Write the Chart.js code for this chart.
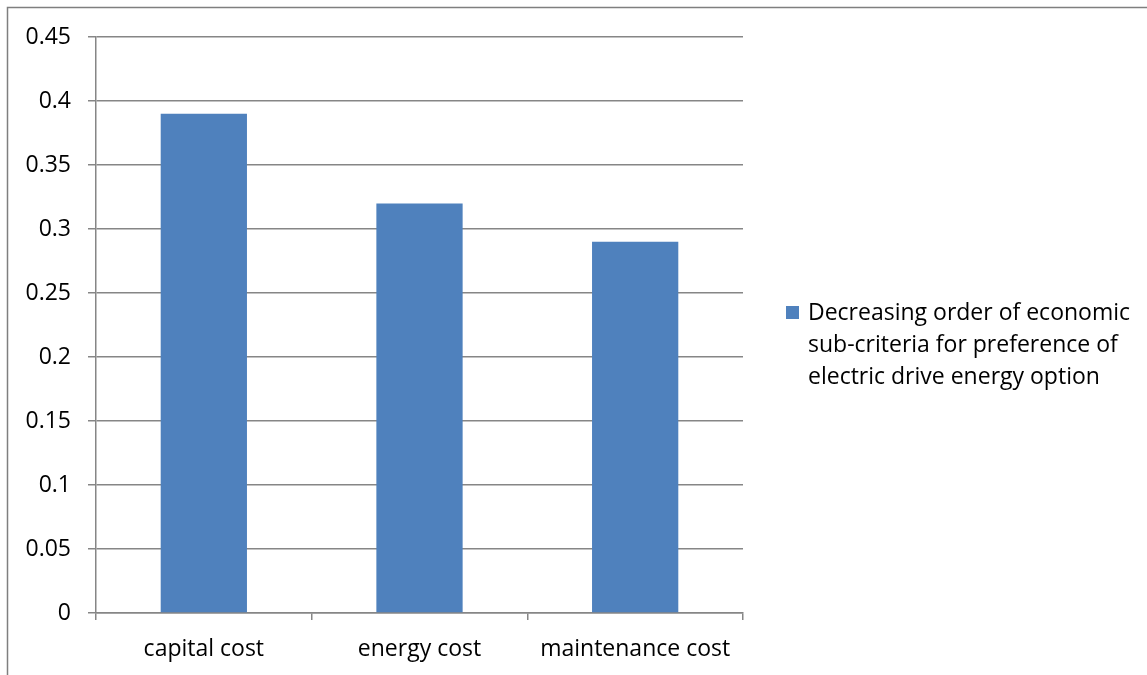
<!DOCTYPE html>
<html>
<head>
<meta charset="utf-8">
<script src="https://cdn.jsdelivr.net/npm/chart.js@4/dist/chart.umd.min.js"></script>
<style>
  html, body { margin: 0; padding: 0; background: #fff; }
  #wrap { width: 1147px; height: 675px; position: relative; }
</style>
</head>
<body>
<div id="wrap"><canvas id="c" width="1147" height="675"></canvas></div>
<script>
// Economic sub-criteria weights
const categories = ['capital cost', 'energy cost', 'maintenance cost'];
const weights = [0.39, 0.32, 0.29];
const seriesLabel = ['Decreasing order of economic', 'sub-criteria for preference of', 'electric drive energy option'];
const yTickValues = [0, 0.05, 0.1, 0.15, 0.2, 0.25, 0.3, 0.35, 0.4, 0.45];

const FONT = "'Open Sans', 'Noto Sans', sans-serif";
const FONT_SIZE = 23;
const GRID = '#868686';
const BAR = '#4F81BD';

// Outer frame of the chart object
const framePlugin = {
  id: 'frame',
  beforeDraw(chart) {
    const ctx = chart.ctx;
    ctx.save();
    ctx.fillStyle = '#fff';
    ctx.fillRect(0, 0, chart.width, chart.height);
    ctx.strokeStyle = '#7f7f7f';
    ctx.lineWidth = 1.5;
    ctx.beginPath();
    ctx.moveTo(7.5, chart.height);
    ctx.lineTo(7.5, 7.5);
    ctx.lineTo(chart.width, 7.5);
    ctx.stroke();
    ctx.restore();
  }
};

// Legend drawn to the right of the plot, with wrapped series name
const sideLegend = {
  id: 'sideLegend',
  afterDraw(chart) {
    const ctx = chart.ctx;
    const ds = chart.data.datasets[0];
    const area = chart.chartArea;
    const x = area.right + 43;
    const y = 313;
    ctx.save();
    ctx.fillStyle = ds.backgroundColor;
    ctx.fillRect(x, y - 7, 13, 13);
    ctx.fillStyle = '#000';
    ctx.font = FONT_SIZE + 'px ' + FONT;
    ctx.textBaseline = 'middle';
    ctx.textAlign = 'left';
    seriesLabel.forEach((line, i) => ctx.fillText(line, x + 22, y + i * 32));
    ctx.restore();
  }
};

new Chart(document.getElementById('c'), {
  type: 'bar',
  data: {
    labels: categories,
    datasets: [{
      label: seriesLabel.join(' '),
      data: weights,
      backgroundColor: BAR,
      borderWidth: 0,
      barPercentage: 0.4,
      categoryPercentage: 1.0
    }]
  },
  options: {
    responsive: false,
    animation: false,
    devicePixelRatio: 1,
    layout: { padding: { left: 0, top: 37, right: 404, bottom: 0 } },
    plugins: {
      legend: { display: false },
      tooltip: { enabled: false }
    },
    scales: {
      x: {
        offset: true,
        grid: {
          display: true,
          offset: true,
          drawOnChartArea: false,
          drawTicks: true,
          tickLength: 7,
          color: GRID,
          lineWidth: 1.5
        },
        border: { display: true, color: GRID, width: 1.5 },
        ticks: { color: '#000', font: { family: FONT, size: FONT_SIZE }, padding: 16, maxRotation: 0 },
        afterFit(scale) { scale.height = 62; }
      },
      y: {
        min: 0,
        max: 0.45,
        afterBuildTicks(scale) { scale.ticks = yTickValues.map(v => ({ value: v })); },
        grid: {
          color: GRID,
          lineWidth: 1.5,
          drawTicks: true,
          tickLength: 8
        },
        border: { display: true, color: GRID, width: 1.5 },
        ticks: {
          color: '#000',
          font: { family: FONT, size: FONT_SIZE },
          padding: 17,
          callback: v => String(Math.round(v * 100) / 100)
        },
        afterFit(scale) { scale.width = 96; }
      }
    }
  },
  plugins: [framePlugin, sideLegend]
});
</script>
</body>
</html>
